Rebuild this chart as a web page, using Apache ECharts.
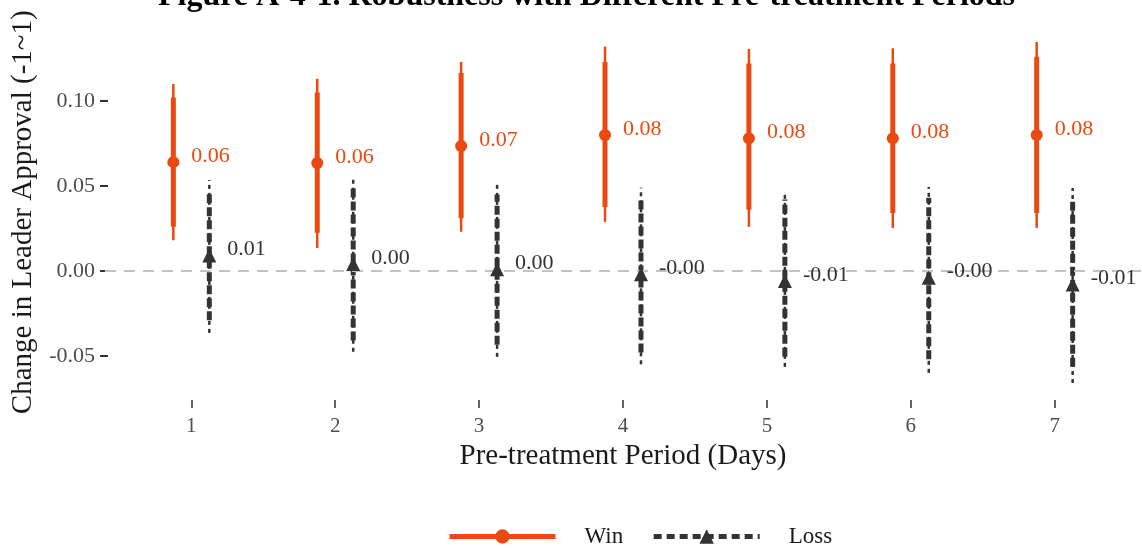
<!DOCTYPE html>
<html><head><meta charset="utf-8">
<script src="https://cdn.jsdelivr.net/npm/echarts@6/dist/echarts.min.js"></script>
<style>html,body{margin:0;padding:0;background:#fff}#c{width:1142px;height:549px}</style>
</head><body><div id="c"></div>
<script>
const periods = [1, 2, 3, 4, 5, 6, 7];
const winEst  = [0.064, 0.0635, 0.0735, 0.080, 0.078, 0.078, 0.080];
const winLo90 = [0.026, 0.0224, 0.031, 0.0376, 0.0359, 0.034, 0.034];
const winHi90 = [0.102, 0.105, 0.1165, 0.123, 0.122, 0.122, 0.126];
const winLo95 = [0.018, 0.0135, 0.023, 0.0288, 0.0259, 0.0253, 0.0253];
const winHi95 = [0.110, 0.113, 0.123, 0.132, 0.1306, 0.131, 0.1347];
const lossEst  = [0.009, 0.004, 0.001, -0.002, -0.006, -0.004, -0.008];
const lossLo90 = [-0.029, -0.041, -0.0435, -0.048, -0.0506, -0.052, -0.0565];
const lossHi90 = [0.0465, 0.049, 0.045, 0.043, 0.042, 0.043, 0.042];
const lossLo95 = [-0.0365, -0.0476, -0.0506, -0.055, -0.0565, -0.060, -0.066];
const lossHi95 = [0.0535, 0.0547, 0.052, 0.049, 0.0465, 0.0494, 0.0488];
const yTicks = [-0.05, 0, 0.05, 0.10];
const xTicks = [1, 2, 3, 4, 5, 6, 7];

const ORANGE = '#EA4A10';
const DARK = '#333333';
const SERIF = 'Liberation Serif';
const DODGE = 0.125;

function ciSeries(name, offset, lo95, hi95, lo90, hi90, color, dashed) {
  return {
    type: 'custom', name: name, silent: true, z: 3,
    data: periods.map((p, i) => [p + offset, lo95[i], hi95[i], lo90[i], hi90[i]]),
    encode: { x: 0, y: [1, 2, 3, 4] },
    renderItem: function (params, api) {
      const x = api.value(0);
      const a = api.coord([x, api.value(1)]), b = api.coord([x, api.value(2)]);
      const c = api.coord([x, api.value(3)]), d = api.coord([x, api.value(4)]);
      return { type: 'group', children: [
        { type: 'line', shape: { x1: a[0], y1: a[1], x2: b[0], y2: b[1] },
          style: { stroke: color, lineWidth: 2.5, lineDash: dashed ? [4, 4] : null } },
        { type: 'line', shape: { x1: c[0], y1: c[1], x2: d[0], y2: d[1] },
          style: { stroke: color, lineWidth: 5, lineDash: dashed ? [9, 4] : null } }
      ]};
    }
  };
}

const chart = echarts.init(document.getElementById('c'), null, { renderer: 'canvas' });
chart.setOption({
  animation: false,
  backgroundColor: '#ffffff',
  title: {
    text: 'Figure A-4-1. Robustness with Different Pre-treatment Periods',
    left: 153, top: -24,
    textStyle: { fontFamily: SERIF, fontWeight: 'bold', fontSize: 32, color: '#000' }
  },
  legend: {
    left: 447, top: 525, padding: 0, itemWidth: 106, itemHeight: 18, itemGap: 28,
    selectedMode: false,
    textStyle: { fontFamily: SERIF, fontSize: 23, color: '#1a1a1a', padding: [0, 0, 0, 24] },
    data: [
      { name: 'Win', lineStyle: { opacity: 1, width: 5, color: ORANGE, type: 'solid' } },
      { name: 'Loss', lineStyle: { opacity: 1, width: 5, color: DARK, type: [8, 5] } }
    ]
  },
  grid: { left: 105, right: 1, top: 24.5, bottom: 149 },
  xAxis: {
    type: 'value', min: 0.4, max: 7.6,
    name: 'Pre-treatment Period (Days)', nameLocation: 'middle', nameGap: 39,
    nameTextStyle: { fontFamily: SERIF, fontSize: 29, color: '#1a1a1a' },
    axisLine: { show: false, onZero: false },
    splitLine: { show: false },
    axisTick: { show: true, customValues: xTicks, length: 8, lineStyle: { color: DARK, width: 1.5 } },
    axisLabel: { customValues: xTicks, margin: 16, fontFamily: SERIF, fontSize: 21, color: '#4d4d4d' }
  },
  yAxis: {
    type: 'value', min: -0.076, max: 0.145, offset: -3,
    name: 'Change in Leader Approval (-1~1)', nameLocation: 'middle', nameGap: 66, nameRotate: 90,
    nameTextStyle: { fontFamily: SERIF, fontSize: 29, color: '#1a1a1a' },
    axisLine: { show: false, onZero: false },
    splitLine: { show: false },
    axisTick: { show: true, customValues: yTicks, length: 8, lineStyle: { color: DARK, width: 2 } },
    axisLabel: { customValues: yTicks, margin: 13, fontFamily: SERIF, fontSize: 22, color: '#4d4d4d',
      formatter: v => v.toFixed(2) }
  },
  series: [
    {
      type: 'line', name: 'zero', data: [], silent: true, z: 1,
      markLine: {
        silent: true, symbol: 'none', label: { show: false },
        lineStyle: { color: '#c2c2c2', width: 2, type: [11, 8] },
        data: [{ yAxis: 0 }]
      }
    },
    ciSeries('Win CI', -DODGE, winLo95, winHi95, winLo90, winHi90, ORANGE, false),
    ciSeries('Loss CI', DODGE, lossLo95, lossHi95, lossLo90, lossHi90, DARK, true),
    {
      type: 'line', name: 'Win', z: 5, silent: true,
      data: periods.map((p, i) => [p - DODGE, winEst[i]]),
      symbol: 'circle', symbolSize: 12, showSymbol: true,
      itemStyle: { color: ORANGE },
      lineStyle: { opacity: 0, width: 5, color: ORANGE },
      label: { show: true, position: 'right', distance: 12, offset: [0, -6],
        formatter: p => p.value[1].toFixed(2), color: ORANGE, fontFamily: SERIF, fontSize: 22 }
    },
    {
      type: 'line', name: 'Loss', z: 5, silent: true,
      data: periods.map((p, i) => [p + DODGE, lossEst[i]]),
      symbol: 'triangle', symbolSize: 14, showSymbol: true,
      itemStyle: { color: DARK },
      lineStyle: { opacity: 0, width: 5, color: DARK },
      label: { show: true, position: 'right', distance: 11, offset: [0, -6],
        formatter: p => p.value[1].toFixed(2), color: DARK, fontFamily: SERIF, fontSize: 22 }
    }
  ]
});
</script>
</body></html>
